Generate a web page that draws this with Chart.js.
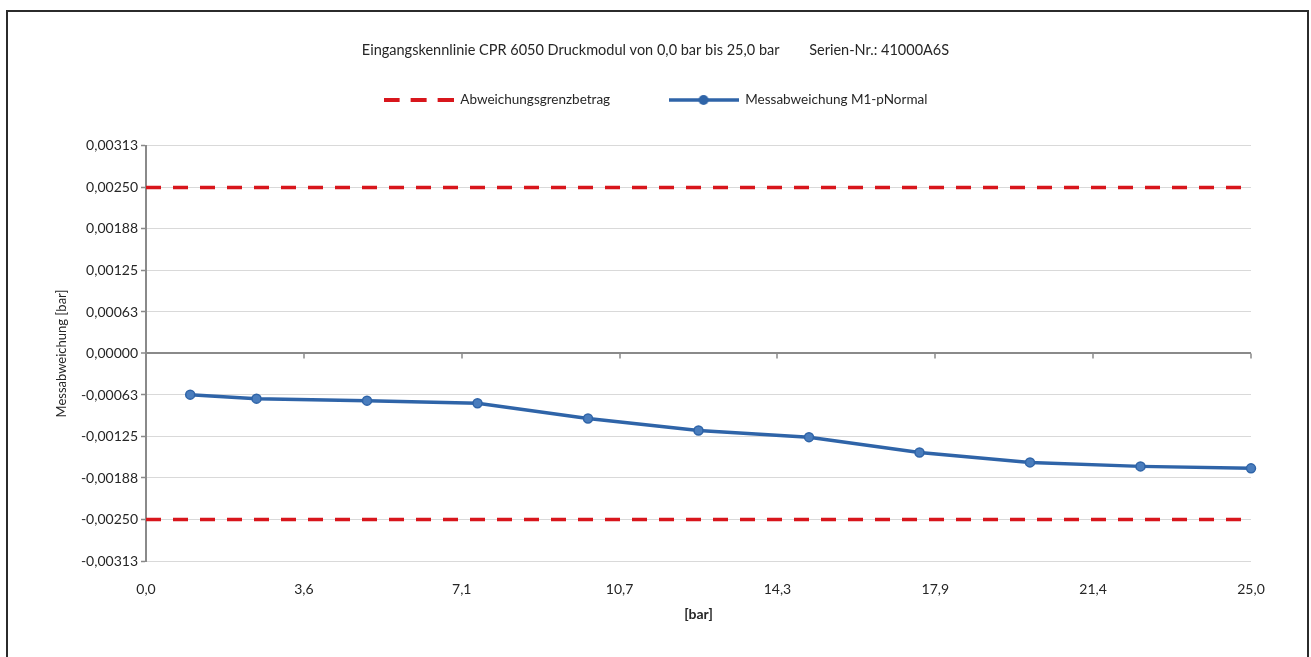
<!DOCTYPE html>
<html>
<head>
<meta charset="utf-8">
<script src="https://cdn.jsdelivr.net/npm/chart.js@4.4.0/dist/chart.umd.min.js"></script>
<style>
  html, body { margin: 0; padding: 0; background: #fff; overflow: hidden; }
  #wrap { position: relative; width: 1311px; height: 657px; }
  #frame { position: absolute; left: 6px; top: 10px; width: 1303px; height: 700px; border: 2px solid #2b2b2b; box-sizing: border-box; pointer-events: none; }
  canvas { position: absolute; left: 0; top: 0; }
</style>
</head>
<body>
<div id="wrap">
  <canvas id="chart" width="1311" height="657"></canvas>
  <div id="frame"></div>
</div>
<script>
const chartTitle = 'Eingangskennlinie CPR 6050 Druckmodul von 0,0 bar bis 25,0 bar';
const serialText = 'Serien-Nr.: 41000A6S';
const limitLabel = 'Abweichungsgrenzbetrag';
const measureLabel = 'Messabweichung M1-pNormal';
const xTitle = '[bar]';
const yTitle = 'Messabweichung [bar]';

// pressure steps [bar] and measured deviation [bar]
const pressure = [1, 2.5, 5, 7.5, 10, 12.5, 15, 17.5, 20, 22.5, 25];
const deviation = [-0.00062, -0.00068, -0.00071, -0.00075, -0.00098, -0.00116, -0.00126, -0.00149, -0.00164, -0.00170, -0.00173];

// tolerance band (+/-)
const limitX = [0, 25];
const limitValue = 0.0025;

const xTickLabels = ['0,0', '3,6', '7,1', '10,7', '14,3', '17,9', '21,4', '25,0'];
const yTickLabels = ['-0,00313', '-0,00250', '-0,00188', '-0,00125', '-0,00063', '0,00000',
                     '0,00063', '0,00125', '0,00188', '0,00250', '0,00313'];
const xMax = 25;
const yStep = 0.000625;

const red = '#d8161c';
const blue = '#2f64a8';
const markerFill = '#4a7dbd';
const textColor = '#262626';
const axisGrey = '#8a8a8a';

Chart.defaults.font.family = 'Lato';
Chart.defaults.color = textColor;

// little pictures for the legend entries
function legendSample(draw) {
  const c = document.createElement('canvas');
  c.width = 70;
  c.height = 12;
  draw(c.getContext('2d'));
  return c;
}
const redSample = legendSample(g => {
  g.strokeStyle = red;
  g.lineWidth = 4;
  g.setLineDash([16, 11]);
  g.beginPath(); g.moveTo(0, 6); g.lineTo(70, 6); g.stroke();
});
const blueSample = legendSample(g => {
  g.strokeStyle = blue;
  g.lineWidth = 3.5;
  g.beginPath(); g.moveTo(0, 6); g.lineTo(70, 6); g.stroke();
  g.fillStyle = blue;
  g.beginPath(); g.arc(35, 6, 5, 0, Math.PI * 2); g.fill();
});

// small tick marks hanging below the zero line
const zeroAxisTicks = {
  id: 'zeroAxisTicks',
  beforeDatasetsDraw(chart) {
    const { ctx, scales: { x, y } } = chart;
    const y0 = y.getPixelForValue(0);
    ctx.save();
    ctx.strokeStyle = axisGrey;
    ctx.lineWidth = 1.5;
    x.ticks.forEach(t => {
      const px = Math.round(x.getPixelForValue(t.value));
      ctx.beginPath();
      ctx.moveTo(px, y0);
      ctx.lineTo(px, y0 + 5);
      ctx.stroke();
    });
    ctx.restore();
  }
};

const limitStyle = {
  borderColor: red,
  backgroundColor: red,
  borderWidth: 3.5,
  borderDash: [15, 12],
  pointRadius: 0,
  pointHoverRadius: 0,
  fill: false
};

new Chart(document.getElementById('chart'), {
  type: 'line',
  data: {
    datasets: [
      { label: limitLabel, data: limitX.map(x => ({ x, y: limitValue })), ...limitStyle },
      { label: limitLabel, data: limitX.map(x => ({ x, y: -limitValue })), ...limitStyle },
      {
        label: measureLabel,
        data: pressure.map((p, i) => ({ x: p, y: deviation[i] })),
        borderColor: blue,
        backgroundColor: markerFill,
        borderWidth: 3.5,
        pointRadius: 4.5,
        pointBackgroundColor: markerFill,
        pointBorderColor: blue,
        pointBorderWidth: 1.5,
        tension: 0,
        clip: 8
      }
    ]
  },
  options: {
    responsive: false,
    animation: false,
    devicePixelRatio: 1,
    layout: { padding: 0 },
    plugins: {
      title: {
        display: true,
        text: chartTitle + '        ' + serialText,
        color: textColor,
        font: { size: 14.5, weight: 'normal' },
        padding: { top: 41.3, bottom: 24.5 }
      },
      // empty block that keeps the gap between legend and plot
      subtitle: {
        display: true,
        text: '',
        weight: 500,
        font: { size: 24.4 },
        padding: 0
      },
      legend: {
        display: true,
        position: 'top',
        labels: {
          usePointStyle: true,
          pointStyleWidth: 70,
          padding: 10,
          color: textColor,
          font: { size: 13.5 },
          generateLabels: () => [
            { text: limitLabel + ' '.repeat(14), pointStyle: redSample, fillStyle: red, strokeStyle: red, fontColor: textColor, lineWidth: 0, hidden: false, datasetIndex: 0 },
            { text: measureLabel, pointStyle: blueSample, fillStyle: blue, strokeStyle: blue, fontColor: textColor, lineWidth: 0, hidden: false, datasetIndex: 2 }
          ]
        }
      },
      tooltip: { enabled: false }
    },
    scales: {
      x: {
        type: 'linear',
        min: 0,
        max: xMax,
        afterBuildTicks: s => {
          s.ticks = xTickLabels.map((_, i) => ({ value: i * xMax / (xTickLabels.length - 1) }));
        },
        afterFit: s => { s.height = 96; },
        grid: { display: false, drawTicks: false },
        border: { display: false },
        ticks: {
          autoSkip: false,
          maxRotation: 0,
          padding: 20,
          color: textColor,
          font: { size: 14 },
          callback: (v, i) => xTickLabels[i]
        },
        title: {
          display: true,
          text: xTitle,
          color: textColor,
          font: { size: 14, weight: 'bold' },
          padding: { top: 0, bottom: 34.6 }
        }
      },
      y: {
        type: 'linear',
        min: -yStep * 5,
        max: yStep * 5,
        afterBuildTicks: s => {
          const mid = (yTickLabels.length - 1) / 2;
          s.ticks = yTickLabels.map((_, i) => ({ value: (i - mid) * yStep }));
        },
        afterFit: s => { s.width = 146; },
        grid: {
          color: c => (c.tick && c.tick.value === 0 ? axisGrey : '#d9d9d9'),
          lineWidth: c => (c.tick && c.tick.value === 0 ? 2 : 1),
          drawTicks: true,
          tickLength: 5,
          tickColor: axisGrey,
          tickWidth: 1.5
        },
        border: { display: true, color: axisGrey, width: 2 },
        ticks: {
          autoSkip: false,
          padding: 3,
          color: textColor,
          font: { size: 14 },
          callback: (v, i) => yTickLabels[i]
        },
        title: {
          display: true,
          text: yTitle,
          color: textColor,
          font: { size: 13 },
          padding: { top: 54, bottom: 0 }
        }
      },
      // empty right-hand box: keeps the plot 60px from the edge while title and legend stay centred on the page
      yRight: {
        position: 'right',
        display: true,
        afterFit: s => { s.width = 60; },
        grid: { display: false, drawTicks: false },
        border: { display: false },
        ticks: { display: false }
      }
    }
  },
  plugins: [zeroAxisTicks]
});
</script>
</body>
</html>
